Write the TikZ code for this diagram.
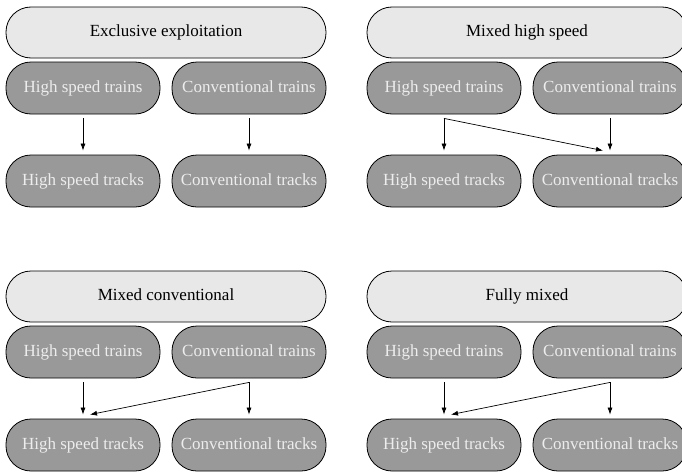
\documentclass[tikz,border=0pt]{standalone}
\usepackage{fontspec}
\setmainfont{Liberation Serif}
\usetikzlibrary{arrows.meta}

\begin{document}
\begin{tikzpicture}[x=1pt,y=-1pt,>={Latex[length=7pt,width=5pt]},
        head/.style={draw,line width=0.8pt,fill=black!9,rounded corners=25pt,
            minimum width=320pt,minimum height=51pt,inner sep=0pt,
            text height=11.5pt,text depth=3.5pt,
            font=\fontsize{17}{20}\selectfont},
        part/.style={draw,line width=0.8pt,fill=black!40,text=white!93!black,
            rounded corners=25pt,minimum width=154pt,minimum height=52pt,
            inner sep=0pt,text height=11.5pt,text depth=3.5pt,
            font=\fontsize{17}{20}\selectfont},
        link/.style={->,line width=0.7pt,shorten <=4pt,shorten >=4pt},
        cross/.style={->,line width=0.7pt}]
    \clip (0,0) rectangle (682,471);
    % four panels: header, trains on top, tracks below
    \foreach \p/\x/\y/\name in {a/6/7/Exclusive exploitation,b/367/7/Mixed high speed,
            c/6/271/Mixed conventional,d/367/271/Fully mixed}{
        \begin{scope}[shift={(\x,\y)}]
            \node[head] (\p-head) at (160,25.5) {\name};
            \node[part] (\p-hstrain) at (77,81) {High speed trains};
            \node[part] (\p-cvtrain) at (243,81) {Conventional trains};
            \node[part] (\p-hstrack) at (77,174) {High speed tracks};
            \node[part] (\p-cvtrack) at (243,174) {Conventional tracks};
        \end{scope}
    }
    % every panel keeps its own trains on its own tracks
    \foreach \p in {a,b,c,d}{
        \draw[link] (\p-hstrain.south) -- (\p-hstrack.north);
        \draw[link] (\p-cvtrain.south) -- (\p-cvtrack.north);
    }
    % shared use
    \draw[cross] ([yshift=-4pt]b-hstrain.south) -- ([xshift=-7pt,yshift=4pt]b-cvtrack.north);
    \draw[cross] ([yshift=-4pt]c-cvtrain.south) -- ([xshift=7pt,yshift=4pt]c-hstrack.north);
    \draw[cross] ([yshift=-4pt]d-cvtrain.south) -- ([xshift=7pt,yshift=4pt]d-hstrack.north);
\end{tikzpicture}
\end{document}
